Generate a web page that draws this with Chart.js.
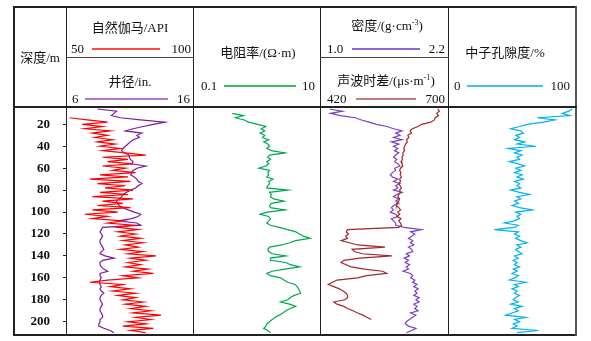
<!DOCTYPE html>
<html><head><meta charset="utf-8">
<script src="https://cdn.jsdelivr.net/npm/chart.js@4.4.0/dist/chart.umd.min.js"></script>
<style>
body{margin:0;background:#fff;}
#root{position:relative;width:591px;height:341px;overflow:hidden;font-family:"Liberation Serif","Noto Sans CJK SC",serif;font-size:13px;color:#111;background:#fff;}
.ln{position:absolute;background:#222;z-index:5;}
.t{position:absolute;white-space:nowrap;line-height:14px;height:14px;z-index:6;}
.c{text-align:center;width:140px;}
.r{text-align:right;width:40px;}
.s{position:absolute;height:2px;z-index:6;}
sup{font-size:8px;vertical-align:5px;line-height:0;}
canvas{position:absolute;}
</style></head>
<body>
<div id="root">
  <!-- frame -->
  <div class="ln" style="left:13px;top:6px;width:564px;height:2px"></div>
  <div class="ln" style="left:13px;top:334px;width:564px;height:2px"></div>
  <div class="ln" style="left:13px;top:6px;width:2px;height:330px"></div>
  <div class="ln" style="left:575px;top:6px;width:2px;height:330px;background:#555"></div>
  <div class="ln" style="left:13px;top:106px;width:564px;height:2px"></div>
  <div class="ln" style="left:66px;top:6px;width:1px;height:330px"></div>
  <div class="ln" style="left:193px;top:6px;width:1px;height:330px"></div>
  <div class="ln" style="left:320px;top:6px;width:1px;height:330px"></div>
  <div class="ln" style="left:448px;top:6px;width:1px;height:330px"></div>
  <div class="ln" style="left:66px;top:57px;width:128px;height:1px;background:#444"></div>
  <div class="ln" style="left:320px;top:57px;width:129px;height:1px;background:#444"></div>

  <!-- header texts -->
  <div class="t c" style="left:-30px;top:51px">深度/m</div>

  <div class="t c" style="left:60px;top:21px">自然伽马/API</div>
  <div class="t" style="left:71px;top:42px">50</div>
  <div class="s" style="left:92px;top:48px;width:68px;background:#ff4a4a"></div>
  <div class="t r" style="left:151px;top:42px">100</div>

  <div class="t c" style="left:60px;top:75px">井径/in.</div>
  <div class="t" style="left:72px;top:92px">6</div>
  <div class="s" style="left:85px;top:98px;width:83px;background:#b874cf"></div>
  <div class="t r" style="left:150px;top:92px">16</div>

  <div class="t c" style="left:188px;top:46px">电阻率/(Ω·m)</div>
  <div class="t" style="left:201px;top:79px">0.1</div>
  <div class="s" style="left:224px;top:85px;width:72px;background:#3dbb66"></div>
  <div class="t r" style="left:275px;top:79px">10</div>

  <div class="t c" style="left:317px;top:19px">密度/(g·cm<sup>-3</sup>)</div>
  <div class="t" style="left:327px;top:42px">1.0</div>
  <div class="s" style="left:352px;top:48px;width:68px;background:#9168cc"></div>
  <div class="t r" style="left:405px;top:42px">2.2</div>

  <div class="t c" style="left:316px;top:74px">声波时差/(μs·m<sup>-1</sup>)</div>
  <div class="t" style="left:327px;top:92px">420</div>
  <div class="s" style="left:356px;top:98px;width:60px;background:#c47c7c"></div>
  <div class="t r" style="left:405px;top:92px">700</div>

  <div class="t c" style="left:435px;top:46px">中子孔隙度/%</div>
  <div class="t" style="left:454px;top:79px">0</div>
  <div class="s" style="left:467px;top:85px;width:76px;background:#45bff2"></div>
  <div class="t r" style="left:530px;top:79px">100</div>

  <canvas id="c1" width="181" height="226" style="left:13px;top:108px;width:181px;height:226px"></canvas>
  <canvas id="c2" width="127" height="226" style="left:194px;top:108px;width:127px;height:226px"></canvas>
  <canvas id="c3" width="128" height="226" style="left:321px;top:108px;width:128px;height:226px"></canvas>
  <canvas id="c4" width="126" height="226" style="left:449px;top:108px;width:126px;height:226px"></canvas>
</div>
<script>
// depth (m)
const depth = [6,8,10,12,14,16,18,20,22,24,26,28,30,32,34,36,38,40,42,44,46,48,50,52,54,56,58,60,62,64,66,68,70,72,74,76,78,80,82,84,86,88,90,92,94,96,98,100,102,104,106,108,110,112,114,116,118,120,122,124,126,128,130,132,134,136,138,140,142,144,146,148,150,152,154,156,158,160,162,164,166,168,170,172,174,176,178,180,182,184,186,188,190,192,194,196,198,200,202,204,206,208,210];
const depthTicks = [20,40,60,80,100,120,140,160,180,200];

// 自然伽马 / API
const gammaRay = [null,null,null,null,51,58,66,56,64,57,67,60,66,61,68,62,69,63,71,64,73,81,64,74,66,76,64,73,68,77,63,74,59,75,62,73,65,76,63,74,60,76,64,72,62,75,60,70,57,66,60,72,66,76,70,78,70,77,71,79,72,80,73,78,71,80,74,85,75,81,74,79,73,82,76,84,72,78,66,59,72,67,75,68,77,70,77,72,80,73,81,75,83,76,87,77,83,74,81,72,84,75,81];
// 井径 / in.
const caliper = [8.4,9.9,9.7,9.5,10.2,11.8,13.7,12.8,12.0,11.2,10.6,11.9,11.5,11.7,11.2,11.0,10.8,10.6,10.4,10.3,10.5,10.9,10.9,11.0,11.2,11.1,12.2,11.5,11.2,11.1,11.0,11.3,11.5,11.6,11.9,11.6,11.4,11.0,10.7,10.4,10.3,10.1,9.9,10.0,10.1,10.4,10.8,11.3,11.8,11.6,11.1,10.0,11.5,11.8,8.8,8.7,8.6,8.7,8.8,8.7,8.6,8.6,8.7,8.8,8.9,8.7,8.6,9.0,9.7,8.8,8.6,8.6,8.7,8.9,9.2,8.6,8.6,8.7,8.6,8.55,8.6,8.7,8.6,8.7,8.9,8.7,8.6,8.6,8.7,8.8,8.7,8.6,8.6,8.7,8.8,8.8,8.6,8.6,8.5,8.5,8.9,9.4,9.7];
// 电阻率 / (Ω·m)
const resistivity = [null,null,0.40,0.60,0.45,0.62,0.72,1.0,1.35,1.15,1.30,1.10,1.30,1.20,1.50,1.25,1.45,1.55,1.40,1.65,2.7,1.55,1.45,1.60,1.40,1.50,1.35,1.05,1.55,1.45,1.50,1.40,1.75,1.50,1.55,1.45,1.40,3.0,1.55,1.65,1.60,1.80,2.6,1.65,1.55,1.60,2.7,1.45,1.10,1.50,1.60,1.50,1.40,1.60,2.2,3.0,4.0,4.6,5.3,6.7,4.0,3.2,2.4,1.55,1.45,1.50,1.70,2.8,1.60,1.60,2.8,3.3,4.6,2.7,1.70,1.40,1.60,2.3,2.6,3.0,3.9,4.2,4.4,4.6,4.8,3.8,3.3,3.0,2.3,3.2,4.0,3.3,2.8,2.5,2.2,1.90,1.70,1.55,1.40,1.35,1.25,1.45,1.60];
// 密度 / (g·cm-3)
const density = [1.08,1.20,1.09,1.18,1.32,1.38,1.45,1.52,1.62,1.68,1.76,1.70,1.74,1.68,1.76,1.66,1.73,1.68,1.72,1.69,1.73,1.70,1.68,1.71,1.69,1.72,1.74,1.69,1.70,1.67,1.65,1.67,1.72,1.68,1.74,1.70,1.72,1.68,1.76,1.71,1.68,1.73,1.70,1.73,1.68,1.66,1.68,1.65,1.70,1.72,1.66,1.68,1.70,1.70,1.78,1.94,1.84,1.88,1.85,1.82,1.86,1.84,1.87,1.82,1.85,1.86,1.80,1.83,1.78,1.82,1.79,1.83,1.80,1.82,1.77,1.84,1.86,1.84,1.88,1.86,1.90,1.87,1.91,1.88,1.90,1.87,1.92,1.89,1.92,1.87,1.90,1.88,1.91,1.84,1.89,1.86,1.83,1.80,1.79,1.82,1.89,1.85,1.80];
// 声波时差 / (μs·m-1)
const sonic = [675,679,673,677,670,668,660,640,632,620,615,618,610,612,607,609,605,603,601,603,599,600,597,598,595,597,599,594,592,595,593,596,592,594,590,593,596,592,594,590,588,592,590,586,585,590,594,588,592,586,595,590,594,596,590,478,475,480,474,478,464,482,500,560,488,493,510,575,505,470,464,475,486,515,555,564,520,500,455,445,436,448,460,468,475,478,478,472,448,455,470,478,490,500,512,520,530,null,null,null,null,null,null];
// 中子孔隙度 / %
const neutron = [98,95,90,96,70,84,75,62,56,49,57,59,53,56,52,60,54,69,47,57,52,58,54,56,48,55,60,53,57,52,58,54,59,52,56,54,57,49,56,64,54,57,52,55,50,56,66,53,57,54,56,52,44,55,52,36,55,52,56,53,57,62,54,57,53,55,58,52,55,51,54,52,56,51,54,50,55,52,48,61,52,55,50,54,52,56,53,51,55,49,58,52,55,50,45,61,52,56,51,54,50,71,54];

function pts(vals){
  const out=[];
  for(let i=0;i<depth.length;i++){ if(vals[i]!==null) out.push({x:vals[i], y:depth[i]}); }
  return out;
}
const yMin = 5.1, yMax = 211.2;
function yScale(show){
  const s = {type:'linear', axis:'y', position:'left', reverse:true, min:yMin, max:yMax, display:show};
  if(show){
    s.afterFit = sc => { sc.width = 54; sc.paddingTop = 0; sc.paddingBottom = 0; };
    s.afterBuildTicks = sc => { sc.ticks = depthTicks.map(v=>({value:v})); };
    s.ticks = {font:{family:'Liberation Serif', size:13, weight:'bold'}, color:'#111', padding:13, autoSkip:false};
    s.grid = {drawOnChartArea:false, drawTicks:true, tickLength:4, color:'#222'};
    s.border = {display:false};
  }
  return s;
}
function ds(data, color, xid){
  return {data:data, borderColor:color, backgroundColor:color, borderWidth:1.2, pointRadius:0, tension:0, fill:false, xAxisID:xid, yAxisID:'y'};
}
function xs(type, min, max){ return {type:type, axis:'x', position:'bottom', min:min, max:max, display:false}; }
function make(id, datasets, scales){
  return new Chart(document.getElementById(id), {
    type:'line',
    data:{datasets:datasets},
    options:{responsive:false, animation:false, devicePixelRatio:1, layout:{padding:0},
      plugins:{legend:{display:false}, tooltip:{enabled:false}},
      scales:scales}
  });
}
make('c1', [ds(pts(gammaRay),'#ff0000','xgr'), ds(pts(caliper),'#7d1b9e','xcal')],
  {xgr:xs('linear',50,100), xcal:xs('linear',6,16), y:yScale(true)});
make('c2', [ds(pts(resistivity),'#00a84f','xres')],
  {xres:xs('logarithmic',0.1,10), y:yScale(false)});
make('c3', [ds(pts(sonic),'#a3282a','xdt'), ds(pts(density),'#7b3fc4','xden')],
  {xden:xs('linear',1.0,2.2), xdt:xs('linear',420,700), y:yScale(false)});
make('c4', [ds(pts(neutron),'#00b0f0','xcnl')],
  {xcnl:xs('linear',0,100), y:yScale(false)});
</script>
</body></html>
